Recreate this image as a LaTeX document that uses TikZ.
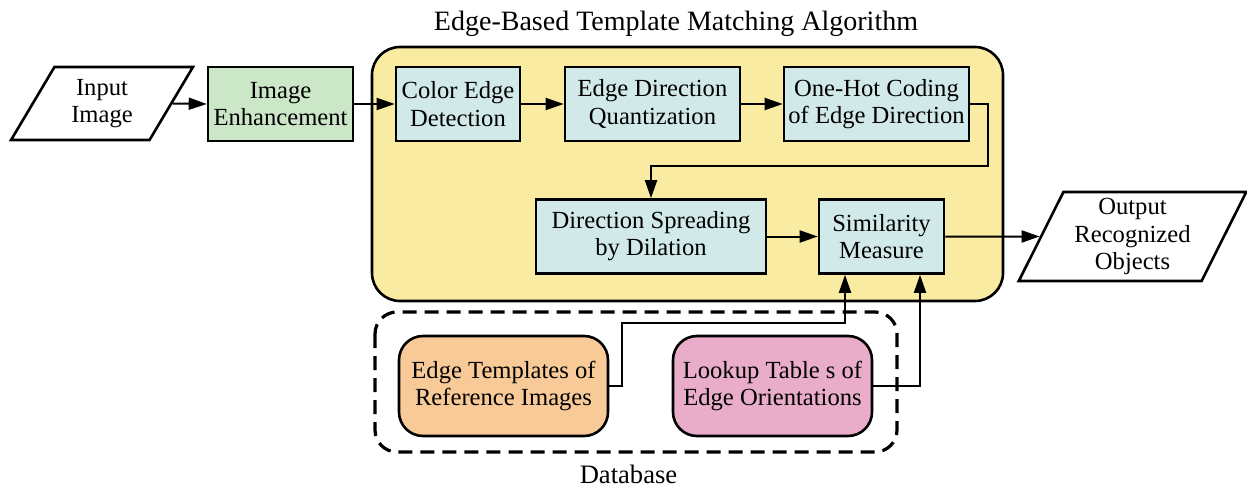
\documentclass[tikz,border=0pt]{standalone}
\usepackage{fontspec}
\setmainfont{Liberation Serif}
\usetikzlibrary{shapes.geometric,arrows.meta}
\definecolor{yel}{RGB}{250,235,162}
\definecolor{blu}{RGB}{210,233,233}
\definecolor{grn}{RGB}{204,230,200}
\definecolor{org}{RGB}{248,202,152}
\definecolor{pnk}{RGB}{233,172,201}
\begin{document}
\begin{tikzpicture}[x=0.5pt,y=-0.5pt,
  font=\fontsize{12.3pt}{13.6pt}\selectfont,
  box/.style={draw, line width=1.3pt, fill=blu, align=center, inner sep=0pt, minimum height=37pt},
  dbbox/.style={draw, line width=1.3pt, align=center, inner sep=0pt, rounded corners=12pt, minimum height=50pt},
  para/.style={draw, line width=1.3pt, fill=white, align=center, inner sep=0pt, trapezium, trapezium stretches=true},
  arr/.style={line width=1pt, -{Triangle[length=9pt,width=6pt]}}]
\useasboundingbox (0,0) rectangle (1247,487);
% containers
\draw[line width=1.3pt, fill=yel, rounded corners=14pt] (372,47) rectangle (1003,301);
\draw[line width=1.6pt, dash pattern=on 7pt off 4pt, rounded corners=11pt] (375,312) rectangle (897,452);
\node[font=\fontsize{14pt}{16pt}\selectfont] (title) at (676,24) {Edge-Based Template Matching Algorithm};
\node[font=\fontsize{13.3pt}{15pt}\selectfont] (db) at (628.5,474) {Database};
% nodes
\node[para, trapezium left angle=60, trapezium right angle=120, minimum width=91pt, minimum height=36.5pt] (in) at (102,103.5) {Input\\Image};
\node[box, fill=grn, minimum width=72.5pt] (en) at (280.5,104) {Image\\Enhancement};
\node[box, minimum width=62pt] (ce) at (458,104) {Color Edge\\Detection};
\node[box, minimum width=87.5pt] (ed) at (652.5,104) {Edge Direction\\Quantization};
\node[box, minimum width=92.5pt] (oh) at (876.5,104) {One-Hot Coding\\of Edge Direction};
\node[box, minimum width=115pt] (ds) at (651,236.5) {Direction Spreading\\by Dilation};
\node[box, minimum width=62.5pt] (sm) at (881.5,236.5) {Similarity\\Measure};
\node[para, trapezium left angle=63.7, trapezium right angle=116.3, minimum width=114.5pt, minimum height=44.5pt] (out) at (1132.5,236.5) {Output\\Recognized\\Objects};
\node[dbbox, fill=org, minimum width=104.5pt] (et) at (503.5,386) {Edge Templates of\\Reference Images};
\node[dbbox, fill=pnk, minimum width=99.5pt] (lt) at (772.5,386) {Lookup Table s of\\Edge Orientations};
% connectors
\draw[arr] (in.east) -- (en.west);
\draw[arr] (en.east) -- (ce.west);
\draw[arr] (ce.east) -- (ed.west);
\draw[arr] (ed.east) -- (oh.west);
\draw[arr] (oh.east) -- ++(18,0) -- ++(0,62) -| (ds.north);
\draw[arr] (ds.east) -- (sm.west);
\draw[arr] (sm.east) -- (out.west);
\draw[arr] (et.east) -- ++(13,0) -- ++(0,-63) -| ([xshift=-18.25pt]sm.south);
\draw[arr] (lt.east) -| ([xshift=19.25pt]sm.south);
\end{tikzpicture}
\end{document}
